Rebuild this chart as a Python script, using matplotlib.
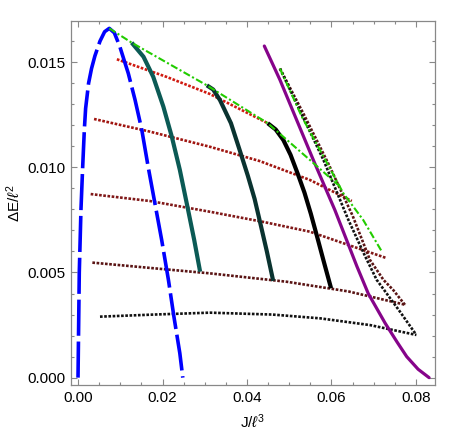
import matplotlib
matplotlib.use("Agg")
import matplotlib.pyplot as plt
from matplotlib.ticker import MultipleLocator

plt.rcParams['font.family'] = ['Liberation Sans', 'DejaVu Sans']
plt.rcParams['mathtext.fontset'] = 'custom'
plt.rcParams['mathtext.rm'] = 'Liberation Sans'
plt.rcParams['mathtext.it'] = 'Liberation Sans:italic'

# ---- data ----
blue_x = [0.0000, 0.0003, 0.0007, 0.0011, 0.0015, 0.0018, 0.0025, 0.0032, 0.0040, 0.0052, 0.0063, 0.0074,
          0.0086, 0.0099, 0.0119, 0.0135, 0.0151, 0.0166, 0.0182, 0.0198, 0.0214, 0.0227, 0.0241, 0.0248]
blue_y = [0.0000, 0.0050, 0.0080, 0.0100, 0.0118, 0.0128, 0.0140, 0.0147, 0.0153, 0.0160, 0.01645, 0.01661,
          0.0164, 0.01574, 0.01447, 0.01321, 0.01178, 0.01003, 0.00829, 0.00655, 0.00465, 0.0029, 0.00116, 0.0000]

teal1_x = [0.0127, 0.0155, 0.0178, 0.0202, 0.0222, 0.0241, 0.0259, 0.0275, 0.0289]
teal1_y = [0.01593, 0.01526, 0.01431, 0.01289, 0.01146, 0.00988, 0.00813, 0.00655, 0.00504]

teal2_x = [0.0305, 0.0320, 0.0336, 0.0362, 0.0383, 0.0402, 0.0418, 0.0432, 0.0447, 0.0462]
teal2_y = [0.0139, 0.0137, 0.0132, 0.0121, 0.0108, 0.0096, 0.0085, 0.0073, 0.0060, 0.0046]

black_x = [0.0449, 0.0468, 0.0486, 0.0503, 0.0520, 0.0536, 0.0551, 0.0566, 0.0582, 0.0599]
black_y = [0.0121, 0.0118, 0.0113, 0.0106, 0.0097, 0.0088, 0.0078, 0.0067, 0.0055, 0.00425]

purple_x = [0.0441, 0.0478, 0.0557, 0.0608, 0.0660, 0.0687, 0.0727, 0.0755, 0.0778, 0.0805, 0.0831]
purple_y = [0.01577, 0.01416, 0.01035, 0.00797, 0.0053, 0.0040, 0.00259, 0.0017, 0.0010, 0.0004, 0.0000]

green_top_x = [0.0074, 0.0127, 0.0305, 0.0449, 0.0549, 0.0608, 0.0620]
green_top_y = [0.01661, 0.01593, 0.0139, 0.0121, 0.01035, 0.0093, 0.0091]

green_steep_x = [0.0478, 0.0530, 0.0596, 0.0628, 0.0675, 0.0719]
green_steep_y = [0.0147, 0.0124, 0.00996, 0.00877, 0.0075, 0.0060]

dotA_x = [0.0092, 0.0210, 0.0312, 0.0449]
dotA_y = [0.01514, 0.0143, 0.01349, 0.0121]

dotB_x = [0.0038, 0.0170, 0.0312, 0.0430, 0.0549, 0.0648]
dotB_y = [0.0123, 0.0117, 0.01098, 0.0103, 0.0094, 0.0084]

dotC_x = [0.0030, 0.0170, 0.0312, 0.0440, 0.0549, 0.0728]
dotC_y = [0.00873, 0.0084, 0.00789, 0.0074, 0.00694, 0.0057]

dotD_x = [0.0034, 0.0180, 0.0312, 0.0494, 0.0640, 0.0776]
dotD_y = [0.00547, 0.0052, 0.00496, 0.00456, 0.0041, 0.00346]

dotE_x = [0.0052, 0.0180, 0.0312, 0.0460, 0.0573, 0.0691, 0.0801]
dotE_y = [0.0029, 0.0030, 0.00309, 0.00300, 0.00282, 0.0025, 0.00203]

steepK_x = [0.0478, 0.0530, 0.0581, 0.0640, 0.0679, 0.0707, 0.0762, 0.0798]
steepK_y = [0.0147, 0.0125, 0.01035, 0.0075, 0.0058, 0.00465, 0.00314, 0.00211]

steepM_x = [0.0478, 0.0535, 0.0592, 0.0650, 0.0691, 0.0723, 0.0746, 0.0774]
steepM_y = [0.0147, 0.0125, 0.0102, 0.0077, 0.0056, 0.00465, 0.00417, 0.00346]

xticks = [0.00, 0.02, 0.04, 0.06, 0.08]
yticks = [0.000, 0.005, 0.010, 0.015]

# ---- figure ----
fig = plt.figure(figsize=(4.57, 4.32), dpi=100)
ax = fig.add_axes([71/457, 1-385/432, (435-71)/457, (385-21)/432])

dot = (0, (1, 0.6))
dlw = 1.9
kw = dict(lw=dlw, ls=dot, dash_capstyle='butt')
ax.plot(dotA_x, dotA_y, color='#d01a10', **kw)
ax.plot(dotB_x, dotB_y, color='#a01510', **kw)
ax.plot(dotC_x, dotC_y, color='#801818', **kw)
ax.plot(dotD_x, dotD_y, color='#5a1414', **kw)
ax.plot(dotE_x, dotE_y, color='#111111', **kw)
ax.plot(steepM_x, steepM_y, color='#5a1414', **kw)
ax.plot(steepK_x, steepK_y, color='#111111', **kw)

ax.plot(purple_x, purple_y, color='#86048a', lw=2.3, solid_capstyle='round')
ax.plot(teal1_x, teal1_y, color='#0b5a55', lw=3.0, solid_capstyle='butt')
ax.plot(teal2_x, teal2_y, color='#0a3330', lw=3.0, solid_capstyle='butt')
ax.plot(black_x, black_y, color='#000000', lw=3.0, solid_capstyle='butt')
ax.plot(blue_x, blue_y, color='#0000ff', lw=2.6, ls=(0, (10, 1.6)), dash_capstyle='butt')
ax.plot(green_top_x, green_top_y, color='#22cc00', lw=1.5, ls=(0, (3.5, 1.2, 1, 1.2)))
ax.plot(green_steep_x, green_steep_y, color='#22cc00', lw=1.5, ls=(0, (3.5, 1.2, 1, 1.2)))

ax.set_xlim(-0.00166, 0.0845)
ax.set_ylim(-0.00035, 0.01696)
ax.set_xticks(xticks)
ax.set_xticklabels([f"{v:.2f}" for v in xticks])
ax.set_yticks(yticks)
ax.set_yticklabels([f"{v:.3f}" for v in yticks])
ax.xaxis.set_minor_locator(MultipleLocator(0.005))
ax.yaxis.set_minor_locator(MultipleLocator(0.001))
ax.tick_params(which='both', direction='in', top=True, right=True, color='#888888', width=0.8)
ax.tick_params(which='major', length=4.5, labelsize=11, pad=4)
ax.tick_params(which='minor', length=2.5)
for s in ax.spines.values():
    s.set_color('#888888')
    s.set_linewidth(0.9)

ax.set_xlabel(r'J/$\ell^3$', fontsize=11, labelpad=6)
ax.set_ylabel(r'$\Delta$E/$\ell^2$', fontsize=11, labelpad=3)

fig.savefig('out.png', dpi=100)
